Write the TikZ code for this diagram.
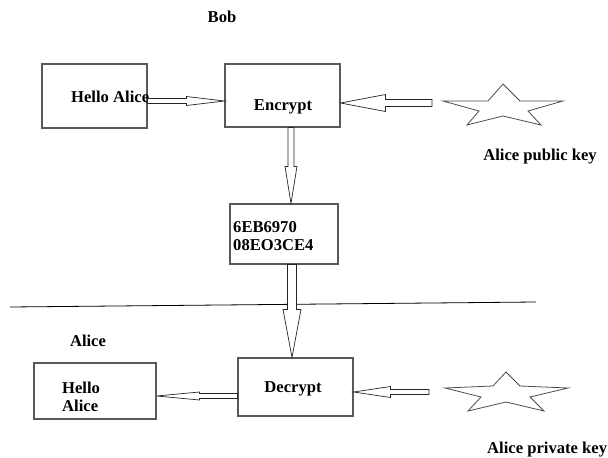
\documentclass[tikz,border=0pt]{standalone}
\usepackage{fontspec}
\setmainfont{Liberation Serif}
\usetikzlibrary{calc}
\newcommand\hollowarrow[5]{%
  \coordinate (ha-b) at ($(#2)!#5!(#1)$);
  \draw[arrowline] ($(#1)!#3!90:(#2)$) -- ($(ha-b)!#3!90:(#2)$) -- ($(ha-b)!#4!90:(#2)$) -- (#2)
    -- ($(ha-b)!#4!-90:(#2)$) -- ($(ha-b)!#3!-90:(#2)$) -- ($(#1)!#3!-90:(#2)$) -- cycle;}
\begin{document}
\begin{tikzpicture}[x=1pt,y=-1pt,
  box/.style={draw=black!65, line width=1.1pt, inner sep=0pt},
  lbl/.style={font=\fontsize{16.6}{17.5}\selectfont\bfseries, inner sep=0pt, text=black},
  arrowline/.style={draw=black!85, line width=0.7pt, fill=white, line join=miter},
  starline/.style={draw=black!70, line width=0.8pt, fill=white}]
\useasboundingbox (0,0) rectangle (608,458);
% boxes
\node[box, minimum width=105pt, minimum height=64pt] (hello) at (94.5,96) {};
\node[box, minimum width=115pt, minimum height=63pt] (enc) at (282.5,95.5) {};
\node[box, minimum width=108pt, minimum height=60pt] (cipher) at (284,234) {};
\node[box, minimum width=115pt, minimum height=58pt] (dec) at (295.5,387) {};
\node[box, minimum width=122pt, minimum height=56pt] (hello2) at (95,391) {};
% texts
\node[lbl] (bob) at (222,17) {Bob};
\node[lbl, anchor=west] (hellot) at (71,97) {Hello Alice};
\node[lbl] (enct) at (283,107) {Encrypt};
\node[lbl, anchor=west, align=left] (ciphert) at (233,236) {6EB6970\\08EO3CE4};
\node[lbl] (alice) at (88,341) {Alice};
\node[lbl, anchor=west, align=left] (hello2t) at (62,397) {Hello\\Alice};
\node[lbl] (dect) at (293,389) {Decrypt};
\node[lbl] (pubt) at (540,157) {Alice public key};
\node[lbl, anchor=west] (privt) at (487,450) {Alice private key};
% separator
\draw[black, line width=0.8pt] (10,307) -- (536,302);
% stars
\draw[starline] (443,101) -- (488,101) -- (503,84) -- (520,101) -- (563,101) -- (528,111)
  -- (541,125) -- (503,116) -- (467,125) -- (479,111) -- cycle;
\draw[starline] (445,388) -- (493,386) -- (506,372) -- (520,386) -- (568,388) -- (530,397)
  -- (544,411) -- (506,402) -- (468,411) -- (481,397) -- cycle;
\coordinate (pubs) at (432,103);
\coordinate (privs) at (429,392);
% arrows
\coordinate (a1s) at ($(hello.east)+(0,5)$);
\coordinate (a1t) at (enc.west |- a1s);
\hollowarrow{a1s}{a1t}{2.5pt}{4.5pt}{38pt}
\coordinate (a2t) at (enc.east |- pubs);
\hollowarrow{pubs}{a2t}{3.5pt}{8.5pt}{45pt}
\coordinate (a3s) at ($(enc.south)+(8.5,0)$);
\coordinate (a3t) at (a3s |- cipher.north);
\hollowarrow{a3s}{a3t}{3pt}{6pt}{37pt}
\coordinate (a4s) at ($(cipher.south)+(8,0)$);
\coordinate (a4t) at (a4s |- dec.north);
\hollowarrow{a4s}{a4t}{4.5pt}{9pt}{48pt}
\coordinate (a5s) at ($(dec.west)+(0,9)$);
\coordinate (a5t) at (hello2.east |- a5s);
\hollowarrow{a5s}{a5t}{2.5pt}{4pt}{43pt}
\coordinate (a6t) at (dec.east |- privs);
\hollowarrow{privs}{a6t}{2.5pt}{5.5pt}{37pt}
\end{tikzpicture}
\end{document}
